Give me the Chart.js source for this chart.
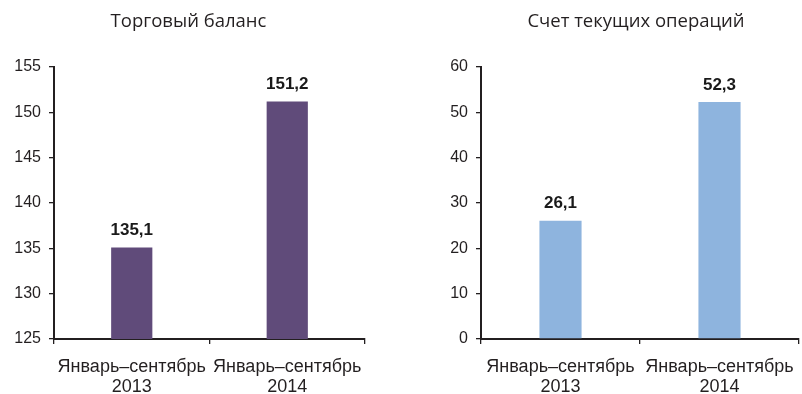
<!DOCTYPE html>
<html>
<head>
<meta charset="utf-8">
<script src="https://cdn.jsdelivr.net/npm/chart.js@4/dist/chart.umd.min.js"></script>
<style>
  html, body { margin: 0; padding: 0; background: #ffffff; }
  #wrap { position: relative; width: 802px; height: 394px; }
  .box { position: absolute; top: 0; height: 394px; }
  #b1 { left: 0; width: 401px; }
  #b2 { left: 401px; width: 401px; }
</style>
</head>
<body>
<div id="wrap">
  <div class="box" id="b1"><canvas id="c1"></canvas></div>
  <div class="box" id="b2"><canvas id="c2"></canvas></div>
</div>
<script>
const categories = [["Январь–сентябрь", "2013"], ["Январь–сентябрь", "2014"]];
const tradeTitle = "Торговый баланс";
const tradeValues = [135.1, 151.2];
const tradeTicks = [125, 130, 135, 140, 145, 150, 155];
const currentTitle = "Счет текущих операций";
const currentValues = [26.1, 52.3];
const currentTicks = [0, 10, 20, 30, 40, 50, 60];

const AXIS_FONT = "'Liberation Sans', Arial, sans-serif";
const TITLE_FONT = "'Open Sans', 'Noto Sans', sans-serif";

const valueLabels = {
  id: 'valueLabels',
  afterDatasetsDraw(chart) {
    const ctx = chart.ctx;
    const meta = chart.getDatasetMeta(0);
    ctx.save();
    ctx.font = "bold 17px " + AXIS_FONT;
    ctx.fillStyle = '#1a1a1a';
    ctx.textAlign = 'center';
    ctx.textBaseline = 'middle';
    meta.data.forEach((bar, i) => {
      const v = chart.data.datasets[0].data[i];
      ctx.fillText(v.toFixed(1).replace('.', ','), bar.x, bar.y - 17);
    });
    ctx.restore();
  }
};

const panelTitle = {
  id: 'panelTitle',
  afterDraw(chart, args, opts) {
    const ctx = chart.ctx;
    ctx.save();
    ctx.font = "18.5px " + TITLE_FONT;
    ctx.fillStyle = '#231f20';
    ctx.textAlign = 'center';
    ctx.textBaseline = 'middle';
    const a = chart.chartArea;
    ctx.fillText(opts.text, (a.left + a.right) / 2 + opts.shift, 22);
    ctx.restore();
  }
};

function makeChart(id, title, values, ticks, color, yWidth, padRight, shift) {
  return new Chart(document.getElementById(id), {
    type: 'bar',
    data: {
      labels: categories,
      datasets: [{
        data: values,
        backgroundColor: color,
        borderWidth: 0,
        categoryPercentage: 1,
        barPercentage: 0.265
      }]
    },
    options: {
      responsive: true,
      maintainAspectRatio: false,
      animation: false,
      events: [],
      layout: { padding: { top: 67, right: padRight, left: 0, bottom: 0 } },
      plugins: {
        legend: { display: false },
        tooltip: { enabled: false },
        title: { display: false },
        panelTitle: { text: title, shift: shift }
      },
      scales: {
        x: {
          afterFit(axis) {
            axis.height = 55;
            axis.paddingLeft = 0;
            axis.paddingRight = 0;
          },
          grid: {
            display: true,
            offset: true,
            drawOnChartArea: false,
            drawTicks: true,
            tickLength: 5,
            color: '#231f20',
            lineWidth: 1.3
          },
          border: { display: true, color: '#231f20', width: 2 },
          ticks: {
            color: '#231f20',
            font: { family: AXIS_FONT, size: 18, lineHeight: 1.12 },
            padding: 13,
            maxRotation: 0,
            autoSkip: false
          }
        },
        y: {
          min: ticks[0],
          max: ticks[ticks.length - 1],
          afterBuildTicks(axis) { axis.ticks = ticks.map(v => ({ value: v })); },
          afterFit(axis) { axis.width = yWidth; },
          grid: {
            display: true,
            drawOnChartArea: false,
            drawTicks: true,
            tickLength: 5,
            color: '#231f20',
            lineWidth: 1.3
          },
          border: { display: true, color: '#231f20', width: 2 },
          ticks: {
            color: '#231f20',
            font: { family: AXIS_FONT, size: 16 },
            padding: 8
          }
        }
      }
    },
    plugins: [valueLabels, panelTitle]
  });
}

makeChart('c1', tradeTitle, tradeValues, tradeTicks, '#604b7a', 54, 36, -21);
makeChart('c2', currentTitle, currentValues, currentTicks, '#8eb4de', 80, 3, -4);
</script>
</body>
</html>
